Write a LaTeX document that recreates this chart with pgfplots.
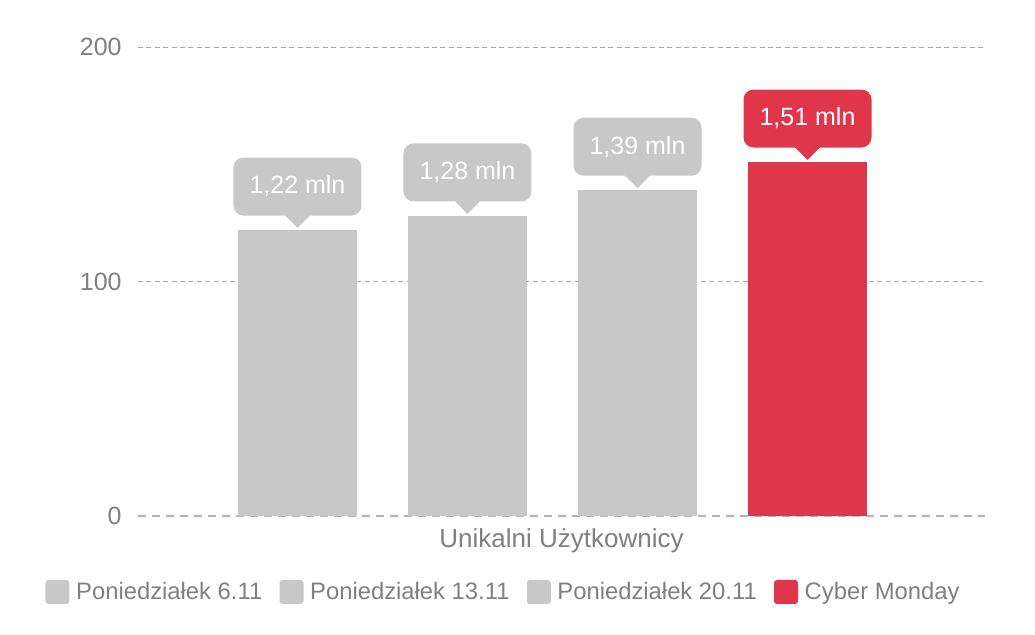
\documentclass[border=0pt]{standalone}
\usepackage{fontspec}
\setmainfont{Liberation Sans}
\usepackage{pgfplots}
\pgfplotsset{compat=1.18}
\usetikzlibrary{shapes.geometric}

\definecolor{barGray}{HTML}{C8C8C8}
\definecolor{barRed}{HTML}{E0364B}
\definecolor{txtGray}{HTML}{808080}
\definecolor{gridGray}{HTML}{A8A8A8}
\definecolor{zeroGray}{HTML}{B4B4B4}

\pgfplotsset{
  sq legend/.style={legend image code/.code={\fill[##1,rounded corners=1.5pt] (0pt,-6pt) rectangle (12pt,6pt);}},
  callout box/.style={every node near coord/.style={anchor=south, yshift=7pt, fill=#1,
      rounded corners=5pt, minimum width=64pt, minimum height=29pt, inner sep=0pt,
      text=white, font=\fontsize{12.5}{15}\selectfont}},
  callout tip/.style={draw=none, fill=none, forget plot, nodes near coords={},
    every node near coord/.style={shape=isosceles triangle, shape border rotate=-90,
      isosceles triangle stretches, minimum width=14pt, minimum height=7pt,
      inner sep=0pt, anchor=apex, fill=#1, draw=none, yshift=0.5pt}},
}

\begin{document}
\begin{tikzpicture}
\useasboundingbox (0,0) rectangle (517.5pt,317pt);
\begin{axis}[
    at={(69pt,59pt)}, anchor=south west,
    scale only axis,
    width=423.5pt, height=234.5pt,
    ybar, bar width=59.5pt, bar shift=0pt,
    xmin=-0.938, xmax=4.044,
    ymin=0, ymax=200,
    xtick=\empty,
    ytick={100,200},
    extra y ticks={0},
    extra y tick style={grid style={color=zeroGray, line width=1.1pt, dash pattern=on 4pt off 3pt}},
    ymajorgrids=true,
    grid style={color=gridGray, line width=0.5pt, dash pattern=on 2.5pt off 1.7pt},
    axis line style={draw=none},
    major tick length=0pt,
    /pgf/number format/assume math mode=true,
    yticklabel style={font=\fontsize{12.5}{15}\selectfont, text=txtGray, inner sep=0pt, xshift=-8pt},
    xlabel={Unikalni Użytkownicy},
    xlabel style={at={(axis description cs:0.5,0)}, anchor=center, yshift=-12.5pt,
      font=\fontsize{13}{15}\selectfont, text=txtGray},
    legend columns=4,
    legend style={draw=none, fill=none, at={(axis description cs:0.4327,-0.162)}, anchor=center,
      font=\fontsize{11.9}{14}\selectfont, text=txtGray,
      /tikz/every odd column/.append style={column sep=1.35pt},
      /tikz/every even column/.append style={column sep=6.6pt}},
]
\addplot[fill=barGray, draw=none, sq legend, nodes near coords={{1,22 mln}}, callout box=barGray]
  coordinates {(0,122)};
\addplot[fill=barGray, draw=none, sq legend, nodes near coords={{1,28 mln}}, callout box=barGray]
  coordinates {(1,128)};
\addplot[fill=barGray, draw=none, sq legend, nodes near coords={{1,39 mln}}, callout box=barGray]
  coordinates {(2,139)};
\addplot[fill=barRed, draw=none, sq legend, nodes near coords={{1,51 mln}}, callout box=barRed]
  coordinates {(3,151)};
\addplot[callout tip=barGray] coordinates {(0,122)};
\addplot[callout tip=barGray] coordinates {(1,128)};
\addplot[callout tip=barGray] coordinates {(2,139)};
\addplot[callout tip=barRed] coordinates {(3,151)};
\legend{Poniedziałek 6.11, Poniedziałek 13.11, Poniedziałek 20.11, Cyber Monday}
\end{axis}
\end{tikzpicture}
\end{document}
